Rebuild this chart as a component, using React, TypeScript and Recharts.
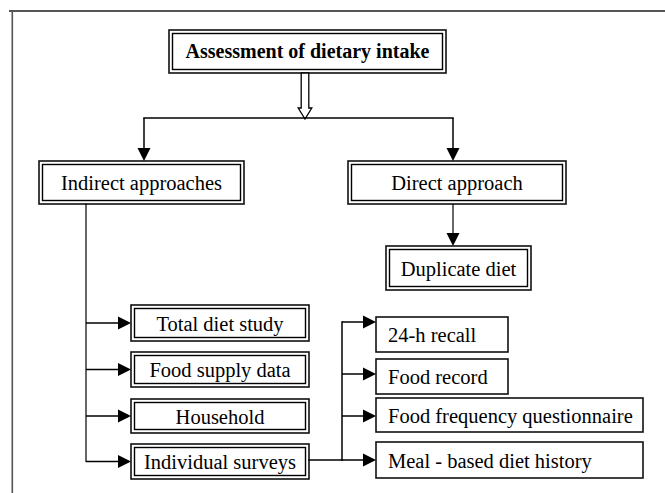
import { ComposedChart, ReferenceArea, ReferenceLine, Scatter, XAxis, YAxis } from 'recharts'

// diagram text
const TITLE = ['Assessment of dietary intake']
const APPROACHES = ['Indirect approaches', 'Direct approach']
const DIRECT_METHODS = ['Duplicate diet']
const INDIRECT_METHODS = ['Total diet study', 'Food supply data', 'Household', 'Individual surveys']
const SURVEY_METHODS = [
  '24-h recall',
  'Food record',
  'Food frequency questionnaire',
  'Meal - based diet history',
]

// layout, in chart units (the axes map 1 unit to 1 px)
const W = 665
const H = 493
const TITLE_BOX = { x1: 169, x2: 446, y1: 30, y2: 73 }
const APPROACH_COLS = [
  [39, 244],
  [348, 566],
]
const APPROACH_ROW = [161, 204]
const DIRECT_BOX = { x1: 386, x2: 531, y1: 246, y2: 290 }
const INDIRECT_COL = [131, 309]
const INDIRECT_ROWS = [
  [305, 341],
  [352, 387],
  [399, 433],
  [444, 479],
]
const SURVEY_LEFT = 376
const SURVEY_RIGHTS = [508, 508, 643, 643]
const SURVEY_ROWS = [
  [317, 352],
  [359, 394],
  [398, 432],
  [442, 478],
]
const SURVEY_ARROW_Y = [322, 374, 416, 460]
const SPLIT_Y = 118
const TRUNK_X = 86
const SURVEY_TRUNK_X = 342
const HOLLOW_X = 305

const FONT = 'Liberation Serif, Times New Roman, DejaVu Serif, serif'
const FONT_SIZE = 20.5

type Box = {
  label: string
  x1: number
  x2: number
  y1: number
  y2: number
  kind: 'title' | 'double' | 'single'
}
type Seg = { from: [number, number]; to: [number, number]; arrow: 'none' | 'solid' | 'hollow'; thin?: boolean }

const boxes: Box[] = [
  { label: TITLE[0], ...TITLE_BOX, kind: 'title' },
  ...APPROACHES.map((label, i) => ({
    label,
    x1: APPROACH_COLS[i][0],
    x2: APPROACH_COLS[i][1],
    y1: APPROACH_ROW[0],
    y2: APPROACH_ROW[1],
    kind: 'double' as const,
  })),
  { label: DIRECT_METHODS[0], ...DIRECT_BOX, kind: 'double' },
  ...INDIRECT_METHODS.map((label, i) => ({
    label,
    x1: INDIRECT_COL[0],
    x2: INDIRECT_COL[1],
    y1: INDIRECT_ROWS[i][0],
    y2: INDIRECT_ROWS[i][1],
    kind: 'double' as const,
  })),
  ...SURVEY_METHODS.map((label, i) => ({
    label,
    x1: SURVEY_LEFT,
    x2: SURVEY_RIGHTS[i],
    y1: SURVEY_ROWS[i][0],
    y2: SURVEY_ROWS[i][1],
    kind: 'single' as const,
  })),
]

const mid = (r: number[]) => (r[0] + r[1]) / 2
const leftDrop = 144
const rightDrop = 453
const lastIndirectY = mid(INDIRECT_ROWS[INDIRECT_ROWS.length - 1])

const segments: Seg[] = [
  { from: [HOLLOW_X, TITLE_BOX.y2], to: [HOLLOW_X, SPLIT_Y + 1], arrow: 'hollow' },
  { from: [leftDrop, SPLIT_Y], to: [rightDrop, SPLIT_Y], arrow: 'none' },
  { from: [leftDrop, SPLIT_Y], to: [leftDrop, APPROACH_ROW[0]], arrow: 'solid' },
  { from: [rightDrop, SPLIT_Y], to: [rightDrop, APPROACH_ROW[0]], arrow: 'solid' },
  { from: [rightDrop, APPROACH_ROW[1]], to: [rightDrop, DIRECT_BOX.y1], arrow: 'solid', thin: true },
  { from: [TRUNK_X, APPROACH_ROW[1]], to: [TRUNK_X, lastIndirectY], arrow: 'none', thin: true },
  ...INDIRECT_ROWS.map((r) => ({
    from: [TRUNK_X, mid(r)] as [number, number],
    to: [INDIRECT_COL[0], mid(r)] as [number, number],
    arrow: 'solid' as const,
  })),
  { from: [INDIRECT_COL[1], SURVEY_ARROW_Y[3]], to: [SURVEY_TRUNK_X, SURVEY_ARROW_Y[3]], arrow: 'none' },
  { from: [SURVEY_TRUNK_X, SURVEY_ARROW_Y[0]], to: [SURVEY_TRUNK_X, SURVEY_ARROW_Y[3]], arrow: 'none' },
  ...SURVEY_ARROW_Y.map((y) => ({
    from: [SURVEY_TRUNK_X, y] as [number, number],
    to: [SURVEY_LEFT, y] as [number, number],
    arrow: 'solid' as const,
  })),
]

const centers = boxes.map((b) => ({ x: (b.x1 + b.x2) / 2, y: (b.y1 + b.y2) / 2 }))

function BoxShape(box: Box) {
  return (props: any) => {
    const { x, y, width, height } = props
    const cy = y + height / 2
    const isTitle = box.kind === 'title'
    const left = box.kind === 'single'
    const gap = 3.5
    return (
      <g>
        <rect x={x} y={y} width={width} height={height} fill="#fff" stroke="#111" strokeWidth={1.6} />
        {box.kind !== 'single' && (
          <rect
            x={x + gap}
            y={y + gap}
            width={width - gap * 2}
            height={height - gap * 2}
            fill="none"
            stroke="#000"
            strokeWidth={1.4}
          />
        )}
        <text
          x={left ? x + 12 : x + width / 2}
          y={cy + (isTitle ? 6 : 7.5)}
          textAnchor={left ? 'start' : 'middle'}
          style={{
            fontFamily: FONT,
            fontSize: isTitle ? 20 : FONT_SIZE,
            fontWeight: isTitle ? 700 : 400,
          }}
          fill="#000"
        >
          {box.label}
        </text>
      </g>
    )
  }
}

function SegShape(seg: Seg) {
  return (props: any) => {
    const { x1, y1, x2, y2 } = props
    const dx = x2 - x1
    const dy = y2 - y1
    const len = Math.hypot(dx, dy) || 1
    const ux = dx / len
    const uy = dy / len
    const px = -uy
    const py = ux
    const sw = seg.thin ? 1.2 : 1.5
    if (seg.arrow === 'hollow') {
      const hs = 3.8
      const hw = 6.8
      const hl = 11
      const bx = x2 - ux * hl
      const by = y2 - uy * hl
      const pts = [
        [x1 + px * hs, y1 + py * hs],
        [bx + px * hs, by + py * hs],
        [bx + px * hw, by + py * hw],
        [x2, y2],
        [bx - px * hw, by - py * hw],
        [bx - px * hs, by - py * hs],
        [x1 - px * hs, y1 - py * hs],
      ]
      return (
        <polygon
          points={pts.map((p) => p.join(',')).join(' ')}
          fill="#fff"
          stroke="#000"
          strokeWidth={1.3}
          strokeLinejoin="miter"
        />
      )
    }
    if (seg.arrow === 'solid') {
      const hw = 6.5
      const hl = 13
      const bx = x2 - ux * hl
      const by = y2 - uy * hl
      return (
        <g>
          <line x1={x1} y1={y1} x2={bx} y2={by} stroke="#000" strokeWidth={sw} />
          <polygon
            points={`${x2},${y2} ${bx + px * hw},${by + py * hw} ${bx - px * hw},${by - py * hw}`}
            fill="#000"
          />
        </g>
      )
    }
    return <line x1={x1} y1={y1} x2={x2} y2={y2} stroke="#000" strokeWidth={sw} strokeLinecap="square" />
  }
}

export default function App() {
  return (
    <div
      style={{
        position: 'absolute',
        left: 0,
        top: 0,
        width: W,
        height: H,
        background: '#fff',
        fontFamily: FONT,
      }}
    >
      <ComposedChart width={W} height={H} margin={{ top: 0, right: 0, bottom: 0, left: 0 }}>
        <XAxis type="number" dataKey="x" domain={[0, W]} hide allowDataOverflow />
        <YAxis type="number" dataKey="y" domain={[0, H]} reversed hide allowDataOverflow />
        {/* page frame */}
        <ReferenceLine
          segment={[
            { x: 9, y: 11 },
            { x: W, y: 11 },
          ]}
          stroke="#555"
          strokeWidth={2.2}
        />
        <ReferenceLine
          segment={[
            { x: 12.3, y: 10 },
            { x: 12.3, y: H },
          ]}
          stroke="#555"
          strokeWidth={1.6}
        />
        {segments.map((s, i) => (
          <ReferenceLine
            key={`seg-${i}`}
            segment={[
              { x: s.from[0], y: s.from[1] },
              { x: s.to[0], y: s.to[1] },
            ]}
            shape={SegShape(s)}
          />
        ))}
        {boxes.map((b) => (
          <ReferenceArea key={b.label} x1={b.x1} x2={b.x2} y1={b.y1} y2={b.y2} shape={BoxShape(b)} />
        ))}
        <Scatter data={centers} shape={() => <g />} isAnimationActive={false} />
      </ComposedChart>
    </div>
  )
}
